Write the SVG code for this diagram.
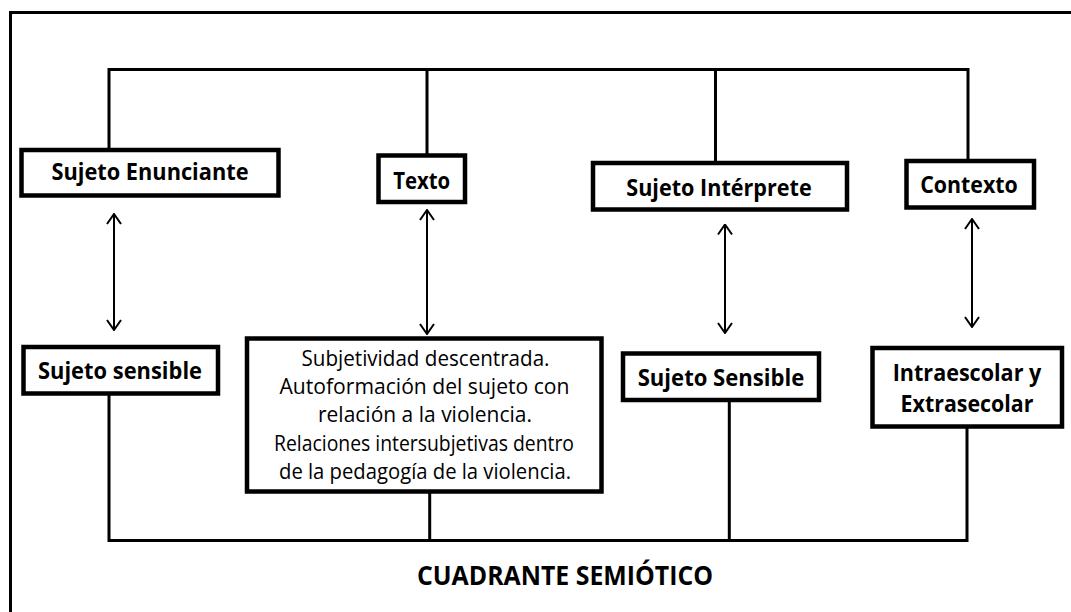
<svg xmlns="http://www.w3.org/2000/svg" width="1071" height="612" viewBox="0 0 1071 612">
<style>
.frame{fill:none;stroke:#000;stroke-width:3}
.box{fill:#fff;stroke:#000;stroke-width:4.5}
.bus{fill:none;stroke:#000;stroke-width:3;stroke-linejoin:miter;stroke-linecap:square}
.arr{fill:none;stroke:#000;stroke-width:2;marker-start:url(#ah);marker-end:url(#ah)}
.lbl{font-family:"Open Sans","Liberation Sans",sans-serif;font-weight:bold;font-size:23px;fill:#000;text-anchor:middle}
.body{font-family:"Open Sans","Liberation Sans",sans-serif;font-size:21.5px;fill:#000;text-anchor:middle}
.title{font-family:"Open Sans","Liberation Sans",sans-serif;font-weight:bold;font-size:26px;fill:#000;text-anchor:middle}
</style>
<defs>
<marker id="ah" viewBox="0 0 12 16" refX="11" refY="8" markerWidth="12" markerHeight="16" markerUnits="userSpaceOnUse" orient="auto-start-reverse">
<path d="M1,1 L11,8 L1,15" fill="none" stroke="#000" stroke-width="2"/>
</marker>
</defs>
<rect width="1071" height="612" fill="#fff"/>
<rect class="frame" x="10.5" y="12.5" width="1100" height="700"/>
<g id="connectors">
<path class="bus" d="M109,149 V69.5 H968 V161"/>
<path class="bus" d="M427,69.5 V155"/>
<path class="bus" d="M715.5,69.5 V163"/>
<path class="bus" d="M109,393 V540.5 H967 V427"/>
<path class="bus" d="M429.7,492 V540.5"/>
<path class="bus" d="M729.3,400 V540.5"/>
<line class="arr" x1="114" y1="330" x2="114" y2="214"/>
<line class="arr" x1="427" y1="334" x2="427" y2="210"/>
<line class="arr" x1="725" y1="333" x2="725" y2="224.5"/>
<line class="arr" x1="972" y1="327" x2="972" y2="219"/>
</g>
<g id="sujeto-enunciante">
<rect class="box" x="21.5" y="150" width="257" height="45.5"/>
<text class="lbl" x="150" y="180.3" textLength="197" lengthAdjust="spacingAndGlyphs">Sujeto Enunciante</text>
</g>
<g id="texto">
<rect class="box" x="378.5" y="155.5" width="86.5" height="46.5"/>
<text class="lbl" x="421.7" y="188.8" textLength="57" lengthAdjust="spacingAndGlyphs">Texto</text>
</g>
<g id="sujeto-interprete">
<rect class="box" x="593" y="163" width="254" height="46.5"/>
<text class="lbl" x="719" y="195.5" textLength="185.5" lengthAdjust="spacingAndGlyphs">Sujeto Intérprete</text>
</g>
<g id="contexto">
<rect class="box" x="906.5" y="161" width="127.5" height="46.5"/>
<text class="lbl" x="969" y="193.2" textLength="97.6" lengthAdjust="spacingAndGlyphs">Contexto</text>
</g>
<g id="sujeto-sensible-1">
<rect class="box" x="23.5" y="347" width="194.5" height="46.5"/>
<text class="lbl" x="120" y="378.8" textLength="164" lengthAdjust="spacingAndGlyphs">Sujeto sensible</text>
</g>
<g id="texto-detalle">
<rect class="box" x="247" y="338.5" width="354.5" height="153"/>
<text class="body" x="425.5" y="365.5" textLength="248" lengthAdjust="spacingAndGlyphs">Subjetividad descentrada.</text>
<text class="body" x="424.5" y="393.8" textLength="290" lengthAdjust="spacingAndGlyphs">Autoformación del sujeto con</text>
<text class="body" x="425" y="422.2" textLength="214" lengthAdjust="spacingAndGlyphs">relación a la violencia.</text>
<text class="body" x="424" y="450.5" textLength="300" lengthAdjust="spacingAndGlyphs">Relaciones intersubjetivas dentro</text>
<text class="body" x="425" y="478.8" textLength="292" lengthAdjust="spacingAndGlyphs">de la pedagogía de la violencia.</text>
</g>
<g id="sujeto-sensible-2">
<rect class="box" x="623" y="353.5" width="196" height="46.5"/>
<text class="lbl" x="721" y="385.5" textLength="166.6" lengthAdjust="spacingAndGlyphs">Sujeto Sensible</text>
</g>
<g id="intraescolar">
<rect class="box" x="872.5" y="348" width="189.5" height="78.5"/>
<text class="lbl" x="967" y="380.5" textLength="148.6" lengthAdjust="spacingAndGlyphs">Intraescolar y</text>
<text class="lbl" x="967" y="412.2" textLength="132.8" lengthAdjust="spacingAndGlyphs">Extrasecolar</text>
</g>
<text class="title" x="565" y="585" textLength="296" lengthAdjust="spacingAndGlyphs">CUADRANTE SEMIÓTICO</text>
</svg>
